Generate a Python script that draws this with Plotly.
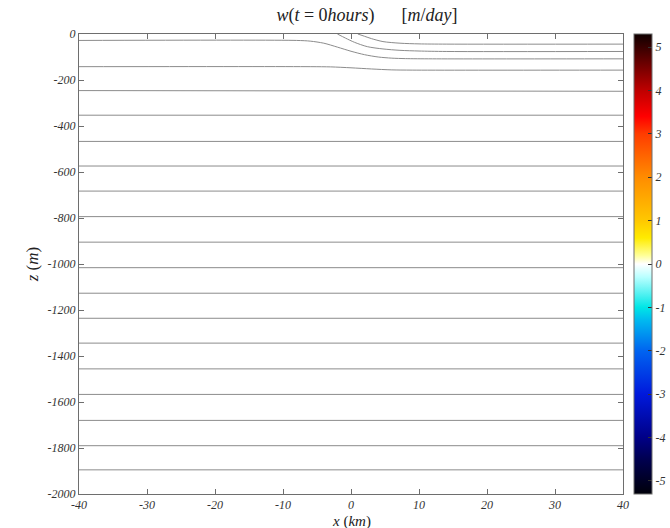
import numpy as np
import plotly.graph_objects as go

# ---- grid and vertical velocity field (m/day) at t = 0 ----
x_grid = np.linspace(-40, 40, 81)
z_grid = np.linspace(-2000, 0, 101)
w_field = np.zeros((len(z_grid), len(x_grid)))

# ---- isopycnals across the front: (x in km, z in m) ----
front_x_a = [-40, -8, -6, -4, -2, 0, 2, 4, 6, 8, 12, 40]
front_z_a = [-28, -28, -31, -40, -57, -75, -90, -100, -105, -107, -108, -108]

front_x_b = [-2.0, -0.8, 0.5, 2.4, 4.7, 7.2, 10, 14, 40]
front_z_b = [0, -18, -36, -55, -65, -71, -74, -76, -76]

front_x_c = [1.0, 2.0, 3.0, 4.7, 7.2, 10, 14, 40]
front_z_c = [0, -10, -20, -33, -40, -43, -44, -44]

front_x_d = [-40, -6, -3, 0, 3, 6, 9, 40]
front_z_d = [-142, -142, -143, -147, -152, -156, -157, -157]

# flat isopycnals below the front (depth on the left and right edges)
flat_left = [-246, -353, -467, -574, -683, -794, -905, -1016, -1127,
             -1236, -1344, -1456, -1567, -1680, -1790, -1895]
flat_right = [-249, -353, -467, -574, -683, -794, -905, -1016, -1127,
              -1236, -1344, -1456, -1567, -1680, -1790, -1895]
flat_x = [-40, 40]

# ---- axis ticks ----
x_ticks = [-40, -30, -20, -10, 0, 10, 20, 30, 40]
x_ticktext = ["-40", "-30", "-20", "-10", "0", "10", "20", "30", "40"]
z_ticks = [0, -200, -400, -600, -800, -1000, -1200, -1400, -1600, -1800, -2000]
z_ticktext = ["0", "-200", "-400", "-600", "-800", "-1000", "-1200",
              "-1400", "-1600", "-1800", "-2000"]
cb_ticks = [-5, -4, -3, -2, -1, 0, 1, 2, 3, 4, 5]
cb_ticktext = ["-5", "-4", "-3", "-2", "-1", "0", "1", "2", "3", "4", "5"]

W_LIM = 5.3

# diverging colour map: black-blue-cyan-white-yellow-red-black
cmap_vals = [-5.3, -4.5, -4.0, -3.0, -2.0, -1.3, -1.0, -0.3, 0.0,
             0.2, 0.6, 1.0, 2.0, 3.0, 3.4, 4.0, 4.6, 5.3]
cmap_cols = ["rgb(0,0,10)", "rgb(0,0,80)", "rgb(0,0,135)", "rgb(0,25,220)",
             "rgb(0,100,240)", "rgb(0,185,240)", "rgb(0,230,230)",
             "rgb(185,255,255)", "rgb(255,255,255)", "rgb(255,255,150)",
             "rgb(255,235,0)", "rgb(255,200,0)", "rgb(255,140,0)",
             "rgb(255,60,0)", "rgb(255,0,0)", "rgb(190,0,0)",
             "rgb(110,0,0)", "rgb(15,0,0)"]
colorscale = [[(v + W_LIM) / (2 * W_LIM), c] for v, c in zip(cmap_vals, cmap_cols)]

SERIF = "Liberation Serif"
AXIS_COL = "#6e6e6e"
ISO_COL = "rgb(140,140,140)"

fig = go.Figure()

fig.add_trace(go.Heatmap(
    x=x_grid, y=z_grid, z=w_field,
    zmin=-W_LIM, zmax=W_LIM, colorscale=colorscale,
    hoverinfo="skip",
    colorbar=dict(
        x=(634 - 79) / 544, xanchor="left", y=0.5, yanchor="middle",
        len=1.0, lenmode="fraction", thickness=18,
        outlinecolor=AXIS_COL, outlinewidth=1,
        tickvals=cb_ticks, ticktext=cb_ticktext,
        ticks="inside", ticklen=4, tickcolor="#333",
        tickfont=dict(family=SERIF, size=12, style="italic", color="#333"),
        xpad=0, ypad=0,
    ),
))

for fx, fz in [(front_x_a, front_z_a), (front_x_b, front_z_b),
               (front_x_c, front_z_c), (front_x_d, front_z_d)]:
    fig.add_trace(go.Scatter(
        x=fx, y=fz, mode="lines",
        line=dict(color=ISO_COL, width=1, shape="spline", smoothing=0.8),
        hoverinfo="skip", showlegend=False,
    ))

for zl, zr in zip(flat_left, flat_right):
    fig.add_trace(go.Scatter(
        x=flat_x, y=[zl, zr], mode="lines",
        line=dict(color=ISO_COL, width=1),
        hoverinfo="skip", showlegend=False,
    ))

tick_font = dict(family=SERIF, size=12, style="italic", color="#333")

fig.update_layout(
    width=670, height=528,
    margin=dict(l=79, r=47, t=34, b=34, autoexpand=False),
    paper_bgcolor="white", plot_bgcolor="white",
    showlegend=False,
    title=dict(
        text="<i>w</i>(<i>t</i> = 0<i>hours</i>)      [<i>m</i>/<i>day</i>]",
        x=367 / 670, xanchor="center", y=1 - 15 / 528, yanchor="middle",
        font=dict(family=SERIF, size=18, color="#222"),
    ),
    xaxis=dict(
        range=[-40, 40], tickvals=x_ticks, ticktext=x_ticktext,
        ticks="inside", ticklen=5, tickcolor=AXIS_COL,
        showline=True, linecolor=AXIS_COL, linewidth=1, mirror="ticks",
        showgrid=False, zeroline=False, tickfont=tick_font,
    ),
    yaxis=dict(
        range=[-2000, 0], tickvals=z_ticks, ticktext=z_ticktext,
        ticks="inside", ticklen=5, tickcolor=AXIS_COL,
        showline=True, linecolor=AXIS_COL, linewidth=1, mirror="ticks",
        showgrid=False, zeroline=False, tickfont=tick_font,
        title=dict(text="<i>z</i> (<i>m</i>)",
                   font=dict(family=SERIF, size=17, color="#222"), standoff=4),
    ),
)

# x-axis title sits at the very bottom edge, just under the tick labels
fig.add_annotation(
    text="<i>x</i> (<i>km</i>)", xref="paper", yref="paper",
    x=0.5, y=-(512 - 494) / 460, xanchor="center", yanchor="top",
    borderpad=0, showarrow=False,
    font=dict(family=SERIF, size=15, color="#222"),
)

fig.write_html("out.html")
